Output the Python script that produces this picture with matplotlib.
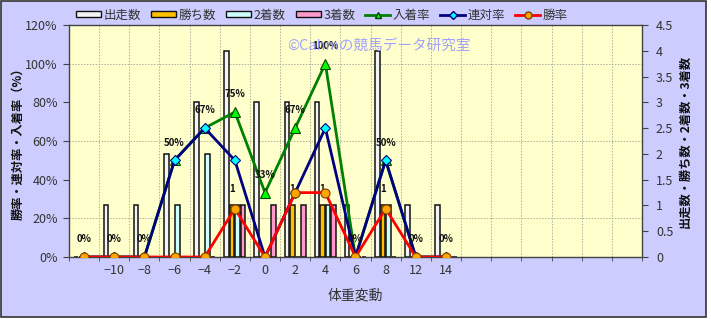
import numpy as np
import matplotlib
matplotlib.use("Agg")
import matplotlib.pyplot as plt
from matplotlib.patches import Rectangle
from matplotlib.lines import Line2D
from matplotlib.ticker import FixedLocator

plt.rcParams['font.family'] = ['Noto Sans CJK JP', 'DejaVu Sans']
plt.rcParams['axes.unicode_minus'] = True

# ---- data ----
categories = ['', '-10', '-8', '-6', '-4', '-2', '0', '2', '4', '6', '8', '12', '14',
              '', '', '', '', '', '']
runs    = [0, 1, 1, 2, 3, 4, 3, 3, 3, 1, 4, 1, 1]
wins    = [0, 0, 0, 0, 0, 1, 0, 1, 1, 0, 1, 0, 0]
seconds = [0, 0, 0, 1, 2, 1, 0, 0, 1, 0, 1, 0, 0]
thirds  = [0, 0, 0, 0, 0, 1, 1, 1, 1, 0, 0, 0, 0]
win_rate   = [0, 0, 0, 0, 0, 25, 0, 33.3, 33.3, 0, 25, 0, 0]
ren_rate   = [0, 0, 0, 50, 66.7, 50, 0, 33.3, 66.7, 0, 50, 0, 0]
place_rate = [0, 0, 0, 50, 66.7, 75, 33.3, 66.7, 100, 0, 50, 0, 0]
watermark = '©Cahmの競馬データ研究室'

W, H = 711, 319
fig = plt.figure(figsize=(W/100, H/100), dpi=100, facecolor='white')
fig.patches.append(Rectangle((1/W, 2/H), 705/W, 316/H, transform=fig.transFigure,
                             facecolor='#CCCCFF', edgecolor='#333333', lw=1.2, zorder=-10))

ax = fig.add_axes([69/W, 1-257/H, (642-69)/W, (257-25)/H])
ax2 = ax.twinx()
ax.set_facecolor('#FFFFCC')
n = len(categories)
x = np.arange(len(runs))
bw = 0.15
off = 0.183
bar_specs = [(runs, '#F4F4F4', -1.5), (wins, '#FFC000', -0.5),
             (seconds, '#CCFFFF', 0.5), (thirds, '#FF99CC', 1.5)]
for vals, col, k in bar_specs:
    ax.bar(x + k*off, vals, width=bw, color=col, edgecolor='#111111', linewidth=1.1, zorder=3)
for xi, v in zip(x, wins):
    if v > 0:
        ax.text(xi - 0.5*off, v + 0.22, str(v), ha='center', va='bottom', fontsize=7,
                fontweight='bold', color='#111111', zorder=4)

ax.set_xlim(-0.5, n-0.5)
ax.set_ylim(0, 4.5)
ax.set_xticks(np.arange(n))
ax.set_xticklabels([c.replace('-', '\u2212') for c in categories], fontsize=9, color='#333333')
ax.xaxis.set_minor_locator(FixedLocator(np.arange(n+1)-0.5))
ax.tick_params(axis='x', which='major', length=0, pad=5)
ax.tick_params(axis='x', which='minor', length=3, color='#444444')
ax.grid(True, axis='x', which='minor', color='#B0B0A0', linestyle=(0, (1.5, 1.5)), lw=0.7, zorder=0)

# bar (count) axis on the right
ax.yaxis.tick_right()
ax.yaxis.set_label_position('right')
ax.set_yticks(np.arange(0, 4.51, 0.5))
ax.set_yticklabels(['0', '0.5', '1', '1.5', '2', '2.5', '3', '3.5', '4', '4.5'], fontsize=9, color='#333333')
ax.tick_params(axis='y', which='major', length=4, color='#444444', pad=6)
ax.yaxis.set_minor_locator(FixedLocator(np.arange(0, 121, 20) * 4.5 / 120))
ax.tick_params(axis='y', which='minor', length=0)
ax.grid(True, axis='y', which='minor', color='#B0B0A0', linestyle=(0, (1.5, 1.5)), lw=0.7, zorder=0)
ax.set_axisbelow(True)
ax.set_ylabel('出走数・勝ち数・2着数・3着数', fontsize=8.8, fontweight='bold', color='#111111',
              labelpad=4, rotation=90)
ax.set_xlabel('体重変動', fontsize=10, color='#333333', labelpad=8)
for s in ax.spines.values():
    s.set_color('#444444')
    s.set_linewidth(1.0)

# rate axis on the left
ax2.yaxis.tick_left()
ax2.yaxis.set_label_position('left')
ax2.set_ylim(0, 120)
ax2.set_yticks(np.arange(0, 121, 20))
ax2.set_yticklabels([f'{v}%' for v in range(0, 121, 20)], fontsize=9, color='#333333')
ax2.tick_params(axis='y', length=4, color='#444444', pad=4)
ax2.set_ylabel('勝率・連対率・入着率（%）', fontsize=8.8, fontweight='bold', color='#111111', labelpad=1)
for s in ax2.spines.values():
    s.set_visible(False)

ax2.plot(x, place_rate, color='#008000', lw=2, marker='^', markersize=7.5,
         markerfacecolor='#00FF00', markeredgecolor='#004400', markeredgewidth=0.8, zorder=5)
ax2.plot(x, ren_rate, color='#000080', lw=2, marker='D', markersize=5.5,
         markerfacecolor='#00FFFF', markeredgecolor='#000080', markeredgewidth=0.8, zorder=6)
ax2.plot(x, win_rate, color='#FF0000', lw=2, marker='o', markersize=6.5,
         markerfacecolor='#FFA500', markeredgecolor='#804000', markeredgewidth=0.8, zorder=7)
for xi, v in zip(x, place_rate):
    ax2.text(xi, v + 6.5, f'{round(v)}%', ha='center', va='bottom', fontsize=7,
             fontweight='bold', color='#111111', zorder=8)

ax2.text((379-69)/573, 1-(47-25)/232, watermark, transform=ax2.transAxes, ha='center', va='center',
         fontsize=10.5, color='#9999FF', alpha=0.9, zorder=9)

handles = [
    Rectangle((0, 0), 1, 1, facecolor='#F4F4F4', edgecolor='#111111', lw=1),
    Rectangle((0, 0), 1, 1, facecolor='#FFC000', edgecolor='#111111', lw=1),
    Rectangle((0, 0), 1, 1, facecolor='#CCFFFF', edgecolor='#111111', lw=1),
    Rectangle((0, 0), 1, 1, facecolor='#FF99CC', edgecolor='#111111', lw=1),
    Line2D([], [], color='#008000', lw=2, marker='^', markersize=5, markerfacecolor='#00FF00', markeredgecolor='#004400'),
    Line2D([], [], color='#000080', lw=2, marker='D', markersize=4, markerfacecolor='#00FFFF', markeredgecolor='#000080'),
    Line2D([], [], color='#FF0000', lw=2, marker='o', markersize=5, markerfacecolor='#FFA500', markeredgecolor='#804000'),
]
labels = ['出走数', '勝ち数', '2着数', '3着数', '入着率', '連対率', '勝率']
fig.legend(handles, labels, loc='center', bbox_to_anchor=(322/W, 1-15/H), ncol=7, frameon=False,
           fontsize=9, handlelength=2.0, handleheight=0.45, handletextpad=0.2, columnspacing=0.8,
           labelcolor='#333333')

fig.savefig('out.png', dpi=100, facecolor=fig.get_facecolor())
